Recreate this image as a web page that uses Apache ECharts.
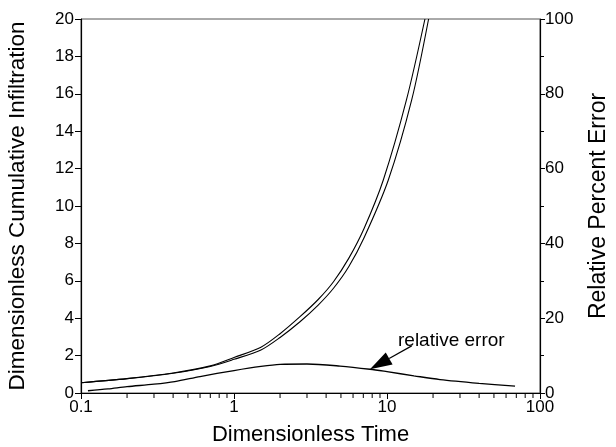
<!DOCTYPE html>
<html>
<head>
<meta charset="utf-8">
<script src="https://cdn.jsdelivr.net/npm/echarts@6/dist/echarts.min.js"></script>
<style>
html,body{margin:0;padding:0;background:#fff;}
#chart{width:616px;height:447px;}
</style>
</head>
<body>
<div id="chart"></div>
<script>
// two infiltration curves (dimensionless time, dimensionless cumulative infiltration)
var tUpper = [0.1, 0.2, 0.4, 0.7, 1, 1.5, 2, 2.7, 3.55, 4.47, 5.62, 7.08, 9.46, 13.4, 17.7];
var iUpper = [0.55, 0.77, 1.07, 1.45, 1.9, 2.45, 3.17, 4.08, 5.0, 5.95, 7.2, 8.8, 11.39, 15.67, 20];
var tLower = [0.1, 0.2, 0.4, 0.7, 1, 1.5, 2, 2.7, 3.55, 4.47, 5.62, 7.08, 10.2, 14.5, 18.7];
var iLower = [0.55, 0.77, 1.06, 1.42, 1.8, 2.3, 2.97, 3.81, 4.7, 5.6, 6.75, 8.3, 11.39, 15.67, 20];
// relative percent error (right axis)
var tErr = [0.111, 0.15, 0.2, 0.3, 0.41, 0.6, 1, 1.5, 2, 3, 4.93, 7.74, 10, 15, 22.2, 40, 68.7];
var errPct = [0.6, 1.1, 1.7, 2.35, 3.05, 4.4, 6.0, 7.1, 7.65, 7.75, 7.2, 6.35, 5.7, 4.6, 3.6, 2.6, 1.85];
// log axis minor ticks
var minorTicks = [0.2,0.3,0.4,0.5,0.6,0.7,0.8,0.9, 2,3,4,5,6,7,8,9, 20,30,40,50,60,70,80,90];
// annotation arrow: tail (t, %) -> tip (t, %)
var arrowLine = [[14.5, 12.6, 7.74, 6.35]];

var FONT = 'Liberation Sans';

function pairs(xs, ys){
	var out = [];
	for(var i = 0; i < xs.length; i++){
		out.push([xs[i], ys[i]]);
	}
	return out;
}

//画箭头: 线段 + 实心三角形
function renderArrow(params, api){
	var p1 = api.coord([api.value(0), api.value(1)]);
	var p2 = api.coord([api.value(2), api.value(3)]);
	var dx = p2[0] - p1[0], dy = p2[1] - p1[1];
	var len = Math.sqrt(dx * dx + dy * dy);
	var ux = dx / len, uy = dy / len;
	var headLen = 22, headW = 7;
	var bx = p2[0] - ux * headLen, by = p2[1] - uy * headLen;
	return {
		type: 'group',
		children: [{
			type: 'line',
			shape: {x1: p1[0], y1: p1[1], x2: bx, y2: by},
			style: {stroke: '#000', lineWidth: 1.2}
		}, {
			type: 'polygon',
			shape: {points: [p2, [bx - uy * headW, by + ux * headW], [bx + uy * headW, by - ux * headW]]},
			style: {fill: '#000'}
		}]
	};
}

var myChart = echarts.init(document.getElementById('chart'), null, {renderer:'canvas'});
var option = {
	animation: false,
	backgroundColor: '#fff',
	grid: {
		left: 81, right: 76, top: 19, bottom: 54,
		containLabel: false, outerBoundsMode: 'none',
		show: true, borderColor: '#555', borderWidth: 1
	},
	xAxis: {
		type: 'log', logBase: 10, min: 0.1, max: 100,
		name: 'Dimensionless Time', nameLocation: 'middle', nameGap: 31,
		nameTextStyle: {fontFamily: FONT, fontSize: 22, color: '#000'},
		axisLine: {onZero: false, lineStyle: {color: '#000', width: 1.2}},
		axisTick: {length: 6, lineStyle: {color: '#000'}},
		axisLabel: {fontFamily: FONT, fontSize: 17, color: '#000', margin: 6,
			formatter: function(v){ return String(v); }},
		splitLine: {show: false}
	},
	yAxis: [{
		type: 'value', min: 0, max: 20, interval: 2,
		name: 'Dimensionless Cumulative Infiltration', nameLocation: 'middle', nameGap: 52,
		nameTextStyle: {fontFamily: FONT, fontSize: 22.5, color: '#000'},
		axisLine: {show: true, onZero: false, lineStyle: {color: '#000', width: 1.2}},
		axisTick: {show: true, length: 6, lineStyle: {color: '#000'}},
		axisLabel: {fontFamily: FONT, fontSize: 17, color: '#000', margin: 7},
		splitLine: {show: false}
	}, {
		type: 'value', min: 0, max: 100, interval: 20, position: 'right',
		name: 'Relative Percent Error', nameLocation: 'middle', nameGap: 47,
		nameRotate: 90,
		nameTextStyle: {fontFamily: FONT, fontSize: 23, color: '#000'},
		axisLine: {show: true, onZero: false, lineStyle: {color: '#000', width: 1.2}},
		axisTick: {show: true, length: 5, lineStyle: {color: '#000'}},
		minorTick: {show: true, splitNumber: 2, length: 4, lineStyle: {color: '#000'}},
		axisLabel: {fontFamily: FONT, fontSize: 17, color: '#000', margin: 5},
		splitLine: {show: false}
	}],
	series: [{
		name: 'upper', type: 'line', smooth: 0.3, showSymbol: false,
		data: pairs(tUpper, iUpper),
		lineStyle: {color: '#000', width: 1.1}
	}, {
		name: 'lower', type: 'line', smooth: 0.3, showSymbol: false,
		data: pairs(tLower, iLower),
		lineStyle: {color: '#000', width: 1.1}
	}, {
		name: 'relative error', type: 'line', smooth: 0.3, showSymbol: false,
		yAxisIndex: 1,
		data: pairs(tErr, errPct),
		lineStyle: {color: '#000', width: 1.3}
	}, {
		// annotation arrow
		type: 'custom', silent: true, clip: false, yAxisIndex: 1,
		encode: {x: [0, 2], y: [1, 3]},
		data: arrowLine,
		renderItem: renderArrow
	}, {
		// minor ticks of the log axis
		type: 'custom', silent: true, clip: false,
		data: minorTicks.map(function(t){ return [t, 0]; }),
		renderItem: function(params, api){
			var p = api.coord([api.value(0), 0]);
			return {
				type: 'line',
				shape: {x1: p[0], y1: p[1], x2: p[0], y2: p[1] + 5},
				style: {stroke: '#000', lineWidth: 1}
			};
		}
	}],
	graphic: [{
		type: 'text', left: 398, top: 331,
		style: {text: 'relative error', font: '19px "Liberation Sans"', fill: '#000'}
	}]
};
myChart.setOption(option);
</script>
</body>
</html>
